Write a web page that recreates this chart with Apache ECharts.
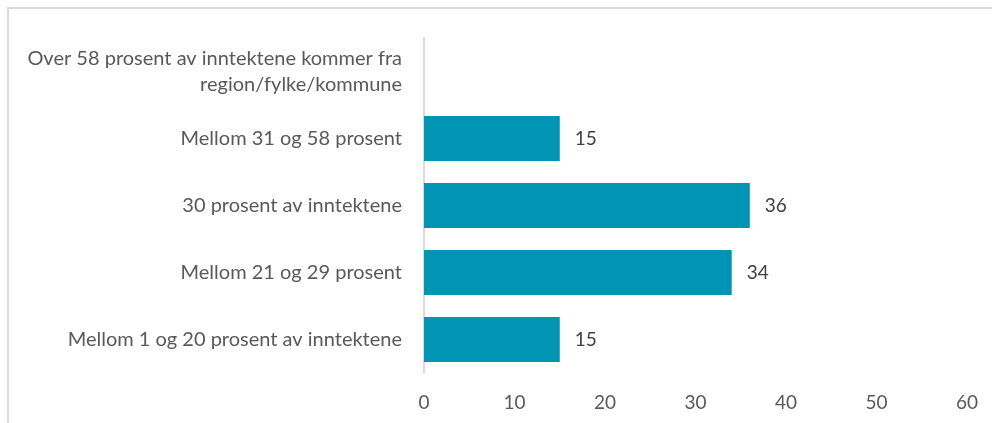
<!DOCTYPE html>
<html>
<head>
<meta charset="utf-8">
<script src="https://cdn.jsdelivr.net/npm/echarts@6/dist/echarts.min.js"></script>
<style>
  html, body { margin: 0; padding: 0; background: #fff; }
  #chart { width: 992px; height: 423px; }
</style>
</head>
<body>
<div id="chart"></div>
<script>
// kategorier nedenfra og opp
const categories = [
  'Mellom 1 og 20 prosent av inntektene',
  'Mellom 21 og 29 prosent',
  '30 prosent av inntektene',
  'Mellom 31 og 58 prosent',
  'Over 58 prosent av inntektene kommer fra\nregion/fylke/kommune'
];
const values = [15, 34, 36, 15, null];
const xTicks = [0, 10, 20, 30, 40, 50, 60];

const fontFamily = 'Lato, "Noto Sans", sans-serif';

const myChart = echarts.init(document.getElementById('chart'));
myChart.setOption({
  animation: false,
  color: ['#0095b4'],
  graphic: [
    {
      type: 'rect',
      shape: { x: 8, y: 8, width: 1000, height: 500 },
      style: { fill: 'none', stroke: '#d9d9d9', lineWidth: 2 }
    }
  ],
  grid: {
    left: 424,
    right: 25,
    top: 38,
    bottom: 50,
    containLabel: false
  },
  xAxis: {
    type: 'value',
    min: xTicks[0],
    max: xTicks[xTicks.length - 1],
    interval: 10,
    splitLine: { show: false },
    axisLine: { show: false },
    axisTick: { show: false },
    axisLabel: {
      margin: 20,
      color: '#595959',
      fontSize: 19,
      fontFamily: fontFamily
    }
  },
  yAxis: {
    type: 'category',
    data: categories,
    axisTick: { show: false },
    axisLine: { show: true, lineStyle: { color: '#d9d9d9', width: 2 } },
    axisLabel: {
      margin: 22,
      color: '#595959',
      fontSize: 20,
      lineHeight: 26,
      fontFamily: fontFamily,
      align: 'right'
    }
  },
  series: [
    {
      type: 'bar',
      data: values,
      barCategoryGap: '33%',
      label: {
        show: true,
        position: 'right',
        distance: 15,
        color: '#404040',
        fontSize: 19,
        fontFamily: fontFamily
      }
    }
  ]
});
</script>
</body>
</html>
